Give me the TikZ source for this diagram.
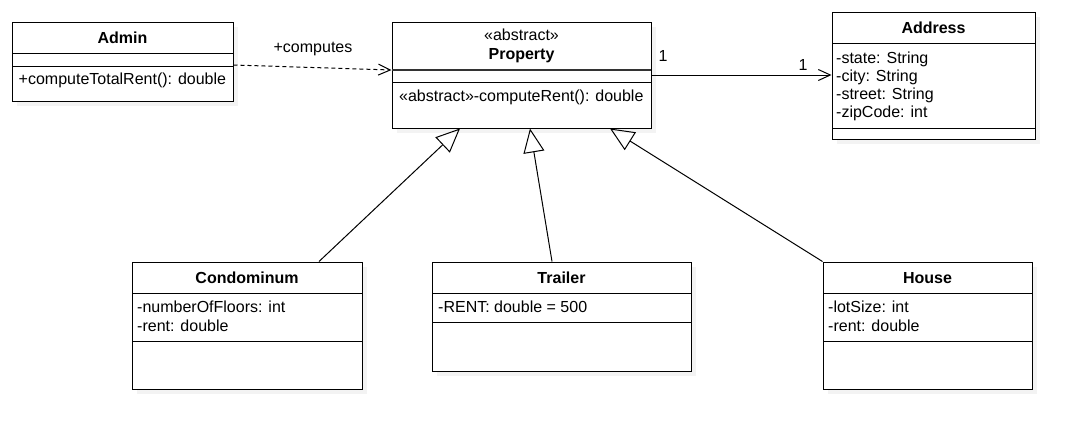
\documentclass[tikz,border=0pt]{standalone}
\usepackage{fontspec}
\setmainfont{Liberation Sans}
\usetikzlibrary{arrows.meta,shadows}

\begin{document}
\begin{tikzpicture}[x=1pt,y=-1pt,
    cls/.style={draw,line width=1pt,fill=white,inner sep=0pt,
        drop shadow={shadow xshift=5pt,shadow yshift=-5pt,fill=black!9}},
    txt/.style={inner sep=0pt,font=\fontsize{16pt}{18pt}\selectfont},
    clstitle/.style={txt,anchor=base,font=\fontsize{16pt}{18pt}\selectfont\bfseries},
    attr/.style={txt,anchor=base west},
    divider/.style={line width=1pt},
    dep/.style={line width=1pt,dash pattern=on 4pt off 3pt,-{Straight Barb[length=12pt,width=11pt]}},
    assoc/.style={line width=1pt,-{Straight Barb[length=12pt,width=11pt]}},
    gen/.style={line width=1pt,-{Triangle[open,length=24pt,width=21pt]}}]

    \fill[white] (0,0) rectangle (1083,440);
    \useasboundingbox (0,0) rectangle (1083,440);

    % classes
    \node[cls,minimum width=221pt,minimum height=79pt] (admin) at (122.5,61.5) {};
    \node[cls,minimum width=259pt,minimum height=106pt] (prop) at (521.5,75) {};
    \node[cls,minimum width=203pt,minimum height=127pt] (addr) at (933.5,75.5) {};
    \node[cls,minimum width=230pt,minimum height=127pt] (condo) at (247,325.5) {};
    \node[cls,minimum width=259pt,minimum height=109pt] (trailer) at (561.5,316.5) {};
    \node[cls,minimum width=209pt,minimum height=127pt] (house) at (927.5,325.5) {};

    \draw[divider] (12,53) -- (233,53);
    \draw[divider] (12,66) -- (233,66);
    \draw[divider,line width=1.6pt,black!80] (392,70) -- (651,70);
    \draw[divider] (392,82) -- (651,82);
    \draw[divider] (832,43) -- (1035,43);
    \draw[divider] (832,128) -- (1035,128);
    \draw[divider] (132,293) -- (362,293);
    \draw[divider] (132,341) -- (362,341);
    \draw[divider] (432,293) -- (691,293);
    \draw[divider] (432,322) -- (691,322);
    \draw[divider] (823,293) -- (1032,293);
    \draw[divider] (823,341) -- (1032,341);

    \node[clstitle] (admint) at (122.5,43.3) {Admin};
    \node[attr] (adminop) at (18.5,84.5) {+computeTotalRent(): double};

    \node[txt,anchor=base] (propst) at (521.5,40.7) {«abstract»};
    \node[clstitle] (propt) at (521.5,59.3) {Property};
    \node[attr] (propop) at (399,101) {«abstract»-computeRent(): double};

    \node[clstitle] (addrt) at (933.5,33.3) {Address};
    \node[attr] (addra) at (836,63) {-state: String};
    \node[attr] (addrb) at (836,81.3) {-city: String};
    \node[attr] (addrc) at (836,99.5) {-street: String};
    \node[attr] (addrd) at (836,117.7) {-zipCode: int};

    \node[clstitle] (condot) at (247,283.3) {Condominum};
    \node[attr] (condoa) at (137,312.7) {-numberOfFloors: int};
    \node[attr] (condob) at (137,331) {-rent: double};

    \node[clstitle] (trailert) at (561.5,283.3) {Trailer};
    \node[attr] (trailera) at (438,312.7) {-RENT: double = 500};

    \node[clstitle] (houset) at (927.5,283.3) {House};
    \node[attr] (housea) at (828,312.5) {-lotSize: int};
    \node[attr] (houseb) at (828,331) {-rent: double};

    % relations
    \draw[dep] ([yshift=-3.5pt]admin.east) -- ([yshift=5pt]prop.west);
    \node[txt,anchor=base] (computes) at (313,52.5) {+computes};

    \draw[assoc] (prop.east) -- (prop.east -| addr.west);
    \node[txt,anchor=base] (multa) at (663,61) {1};
    \node[txt,anchor=base] (multb) at (803,70.5) {1};

    \draw[gen] ([xshift=72pt]condo.north) -- ([xshift=-61.5pt]prop.south);
    \draw[gen] ([xshift=-9.5pt]trailer.north) -- ([xshift=8.5pt]prop.south);
    \draw[gen] (house.north west) -- ([xshift=88.5pt]prop.south);

\end{tikzpicture}
\end{document}
